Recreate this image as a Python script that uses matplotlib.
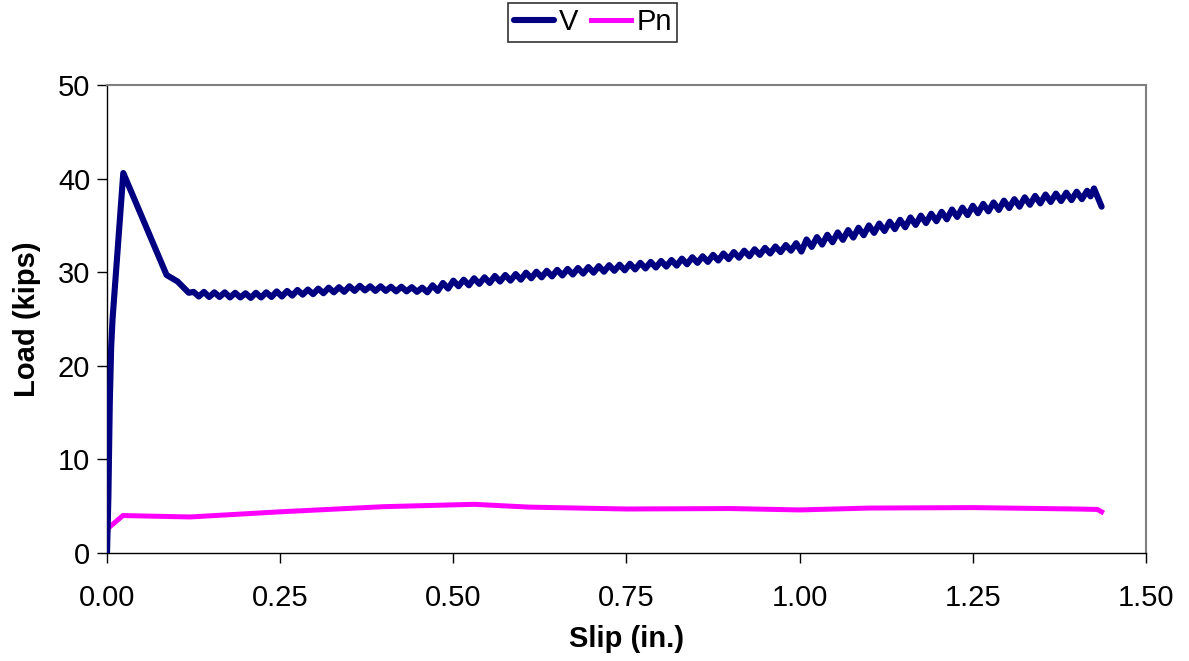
import matplotlib
matplotlib.use("Agg")
import matplotlib.pyplot as plt

plt.rcParams["font.family"] = ["Liberation Sans", "DejaVu Sans"]

# Shear load V: initial loading, peak, drop and then cyclic slip response
v_slip = [
    0.000, 0.002, 0.004, 0.006, 0.008, 0.019, 0.0235, 0.086, 0.102, 0.118,
    0.125, 0.1325, 0.140, 0.1475, 0.155, 0.1625, 0.170, 0.1775, 0.185, 0.1925,
    0.200, 0.2075, 0.215, 0.2225, 0.230, 0.2375, 0.245, 0.2525, 0.260, 0.2675,
    0.275, 0.2825, 0.290, 0.2975, 0.305, 0.3125, 0.320, 0.3275, 0.335, 0.3425,
    0.350, 0.3575, 0.365, 0.3725, 0.380, 0.3875, 0.395, 0.4025, 0.410, 0.4175,
    0.425, 0.4325, 0.440, 0.4475, 0.455, 0.4625, 0.470, 0.4775, 0.485, 0.4925,
    0.500, 0.5075, 0.515, 0.5225, 0.530, 0.5375, 0.545, 0.5525, 0.560, 0.5675,
    0.575, 0.5825, 0.590, 0.5975, 0.605, 0.6125, 0.620, 0.6275, 0.635, 0.6425,
    0.650, 0.6575, 0.665, 0.6725, 0.680, 0.6875, 0.695, 0.7025, 0.710, 0.7175,
    0.725, 0.7325, 0.740, 0.7475, 0.755, 0.7625, 0.770, 0.7775, 0.785, 0.7925,
    0.800, 0.8075, 0.815, 0.8225, 0.830, 0.8375, 0.845, 0.8525, 0.860, 0.8675,
    0.875, 0.8825, 0.890, 0.8975, 0.905, 0.9125, 0.920, 0.9275, 0.935, 0.9425,
    0.950, 0.9575, 0.965, 0.9725, 0.980, 0.9875, 0.995, 1.0025, 1.010, 1.0175,
    1.025, 1.0325, 1.040, 1.0475, 1.055, 1.0625, 1.070, 1.0775, 1.085, 1.0925,
    1.100, 1.1075, 1.115, 1.1225, 1.130, 1.1375, 1.145, 1.1525, 1.160, 1.1675,
    1.175, 1.1825, 1.190, 1.1975, 1.205, 1.2125, 1.220, 1.2275, 1.235, 1.2425,
    1.250, 1.2575, 1.265, 1.2725, 1.280, 1.2875, 1.295, 1.3025, 1.310, 1.3175,
    1.325, 1.3325, 1.340, 1.3475, 1.355, 1.3625, 1.370, 1.3775, 1.385, 1.3925,
    1.400, 1.4075, 1.415, 1.420, 1.425, 1.436,
]
v_load = [
    0.0, 6.0, 16.0, 22.0, 25.0, 36.0, 40.6, 29.7, 29.0, 27.8,
    27.9, 27.4, 27.9, 27.35, 27.85, 27.35, 27.85, 27.3, 27.8, 27.3,
    27.75, 27.25, 27.8, 27.3, 27.85, 27.35, 27.95, 27.4, 28.0, 27.5,
    28.1, 27.6, 28.15, 27.65, 28.25, 27.75, 28.35, 27.85, 28.4, 27.9,
    28.5, 28.0, 28.55, 28.05, 28.5, 28.0, 28.5, 28.0, 28.45, 27.95,
    28.45, 27.95, 28.4, 27.9, 28.35, 27.85, 28.6, 28.0, 28.85, 28.25,
    29.1, 28.5, 29.2, 28.6, 29.35, 28.75, 29.45, 28.85, 29.6, 29.0,
    29.7, 29.1, 29.8, 29.2, 29.95, 29.35, 30.05, 29.45, 30.15, 29.55,
    30.25, 29.65, 30.35, 29.75, 30.45, 29.85, 30.55, 29.95, 30.65, 30.05,
    30.75, 30.15, 30.8, 30.2, 30.9, 30.3, 31.0, 30.4, 31.1, 30.5,
    31.2, 30.6, 31.3, 30.7, 31.45, 30.85, 31.6, 31.0, 31.7, 31.1,
    31.85, 31.25, 32.0, 31.4, 32.15, 31.55, 32.3, 31.7, 32.45, 31.85,
    32.6, 32.0, 32.75, 32.15, 32.9, 32.3, 33.1, 32.2, 33.5, 32.7,
    33.75, 32.95, 34.0, 33.2, 34.25, 33.45, 34.5, 33.7, 34.75, 33.95,
    35.0, 34.2, 35.2, 34.4, 35.4, 34.6, 35.6, 34.8, 35.85, 35.05,
    36.05, 35.25, 36.25, 35.45, 36.45, 35.65, 36.7, 35.9, 36.9, 36.1,
    37.1, 36.3, 37.3, 36.5, 37.45, 36.65, 37.65, 36.85, 37.8, 37.0,
    38.0, 37.2, 38.15, 37.35, 38.3, 37.5, 38.4, 37.6, 38.5, 37.7,
    38.6, 37.8, 38.7, 38.1, 38.95, 37.0,
]

# Normal force Pn
pn_slip = [0.000, 0.001, 0.004, 0.023, 0.120, 0.250, 0.400, 0.530, 0.610,
           0.750, 0.900, 1.000, 1.100, 1.250, 1.400, 1.430, 1.436]
pn_load = [0.0, 2.6, 2.8, 4.0, 3.85, 4.4, 4.95, 5.2, 4.9,
           4.7, 4.75, 4.6, 4.8, 4.85, 4.7, 4.65, 4.4]

x_ticks = [0.00, 0.25, 0.50, 0.75, 1.00, 1.25, 1.50]
y_ticks = [0, 10, 20, 30, 40, 50]

fig = plt.figure(figsize=(11.89, 6.61), dpi=100)
ax = fig.add_axes([0.09, 0.1634, 0.8738, 0.708])

ax.plot(v_slip, v_load, color="#000080", lw=4.4, solid_joinstyle="round",
        solid_capstyle="round", label="V", zorder=3)
ax.plot(pn_slip, pn_load, color="#FF00FF", lw=3.6, solid_joinstyle="round",
        label="Pn", zorder=2)

ax.set_xlim(0, 1.5)
ax.set_ylim(0, 50)
ax.set_xticks(x_ticks)
ax.set_xticklabels([f"{t:.2f}" for t in x_ticks])
ax.set_yticks(y_ticks)
ax.tick_params(axis="both", direction="out", length=7, width=1.0,
               labelsize=21)
ax.tick_params(axis="x", pad=15)
ax.tick_params(axis="y", pad=5)

for side in ("left", "bottom"):
    ax.spines[side].set_color("black")
    ax.spines[side].set_linewidth(1.0)
for side in ("top", "right"):
    ax.spines[side].set_color("#808080")
    ax.spines[side].set_linewidth(1.5)

ax.set_xlabel("Slip (in.)", fontsize=21, fontweight="bold", labelpad=10)
ax.set_ylabel("Load (kips)", fontsize=21, fontweight="bold", labelpad=12)

leg = fig.legend(loc="upper center", bbox_to_anchor=(0.4985, 0.996), ncol=2,
                 fontsize=21, frameon=True, fancybox=False, handlelength=1.37,
                 handletextpad=0.17, columnspacing=0.45, borderpad=0.2,
                 borderaxespad=0.0)
leg.get_frame().set_edgecolor("black")
leg.get_frame().set_linewidth(1.2)

fig.savefig("out.png", dpi=100)
